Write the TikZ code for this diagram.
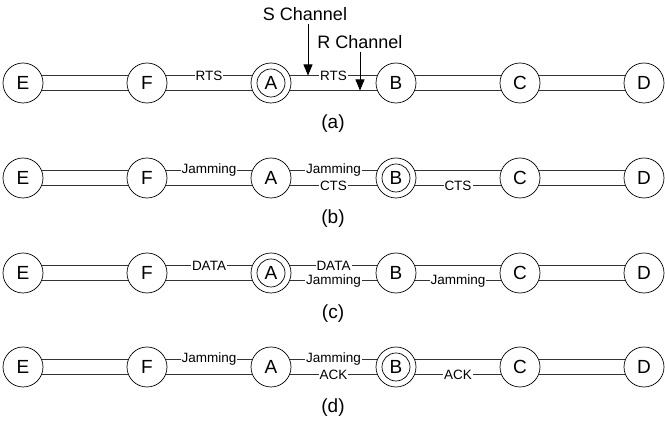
\documentclass[tikz,border=0pt]{standalone}
\usepackage{fontspec}
\setmainfont{Liberation Sans}
\usetikzlibrary{arrows.meta}
\tikzstyle{every node}=[font=\fontsize{19}{19}\selectfont]
\tikzstyle{every path}=[line width=0.7pt,line cap=round,line join=round]
\tikzstyle{station}=[circle,draw,minimum size=40pt,inner sep=0pt]
\tikzstyle{chan}=[draw=black!80]
\tikzstyle{msg}=[fill=white,inner sep=1pt,font=\fontsize{13.5}{13.5}\selectfont]
\tikzstyle{pointer}=[-{Triangle[length=11pt,width=9pt]}]

\begin{document}
\begin{tikzpicture}[x=1pt,y=1pt]
    \useasboundingbox (0,0) rectangle (665,430);

    % stations, one row for each step
    \foreach \r/\y in {a/347,b/252,c/157,d/63}{
        \foreach \n/\x in {E/23,F/147,A/271,B/396,C/520,D/644}
            \node[station] (\n\r) at (\x,\y) {\n};
    }
    % the station that holds the channel
    \foreach \s in {Aa,Bb,Ac,Bd}
        \draw (\s) circle (14pt);

    % idle channels at both ends
    \foreach \r in {a,b,c,d}{
        \draw[chan] (E\r.22) -- (F\r.158) (E\r.-22) -- (F\r.-158);
        \draw[chan] (C\r.22) -- (D\r.158) (C\r.-22) -- (D\r.-158);
    }

    % (a) RTS
    \draw[chan]
        (Fa.22) -- node[msg]{RTS} (Aa.158) (Fa.-22) -- (Aa.-158)
        (Aa.22) -- node[msg]{RTS} (Ba.158) (Aa.-22) -- (Ba.-158)
        (Ba.22) -- (Ca.158) (Ba.-22) -- (Ca.-158);
    % (b) CTS
    \draw[chan]
        (Fb.22) -- node[msg]{Jamming} (Ab.158) (Fb.-22) -- (Ab.-158)
        (Ab.22) -- node[msg]{Jamming} (Bb.158) (Ab.-22) -- node[msg]{CTS} (Bb.-158)
        (Bb.22) -- (Cb.158) (Bb.-22) -- node[msg]{CTS} (Cb.-158);
    % (c) DATA
    \draw[chan]
        (Fc.22) -- node[msg]{DATA} (Ac.158) (Fc.-22) -- (Ac.-158)
        (Ac.22) -- node[msg]{DATA} (Bc.158) (Ac.-22) -- node[msg]{Jamming} (Bc.-158)
        (Bc.22) -- (Cc.158) (Bc.-22) -- node[msg]{Jamming} (Cc.-158);
    % (d) ACK
    \draw[chan]
        (Fd.22) -- node[msg]{Jamming} (Ad.158) (Fd.-22) -- (Ad.-158)
        (Ad.22) -- node[msg]{Jamming} (Bd.158) (Ad.-22) -- node[msg]{ACK} (Bd.-158)
        (Bd.22) -- (Cd.158) (Bd.-22) -- node[msg]{ACK} (Cd.-158);

    % captions
    \node (capa) at (333,306) {(a)};
    \node (capb) at (333,211) {(b)};
    \node (capc) at (333,116) {(c)};
    \node (capd) at (333,22) {(d)};

    % channel pointers
    \node[font=\fontsize{18}{18}\selectfont] (schan) at (305,416) {S Channel};
    \node[font=\fontsize{18}{18}\selectfont] (rchan) at (360,388) {R Channel};
    \coordinate (stip) at (308,354.5);
    \coordinate (rtip) at (360,339.5);
    \draw[pointer] (schan.south -| stip) -- (stip);
    \draw[pointer] (rchan) -- (rtip);
\end{tikzpicture}
\end{document}
